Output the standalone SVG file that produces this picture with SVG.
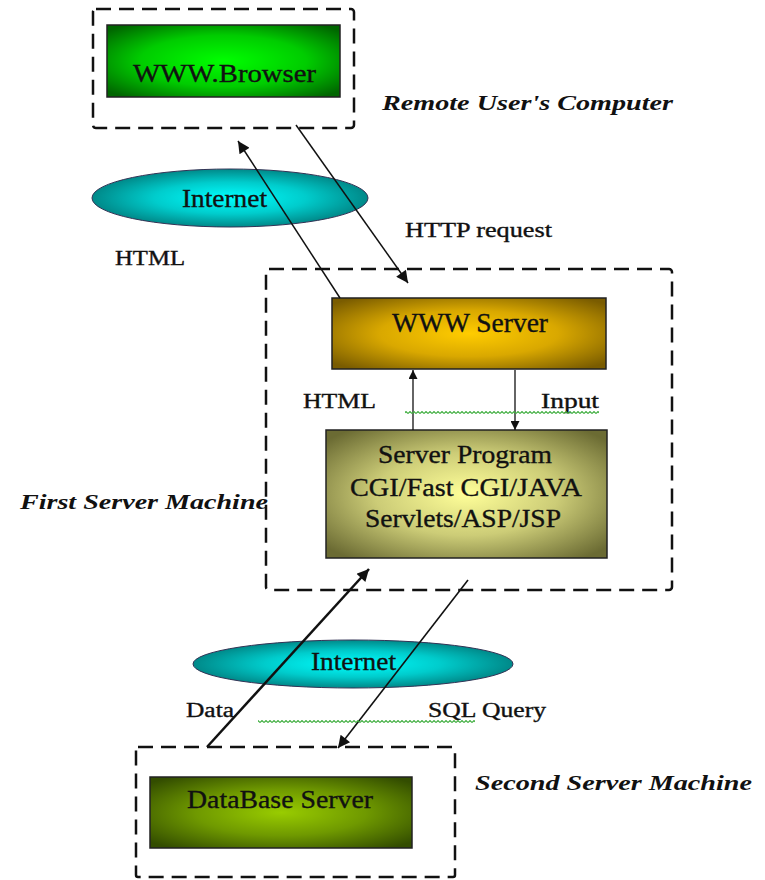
<svg xmlns="http://www.w3.org/2000/svg" width="765" height="880" viewBox="0 0 765 880">
<style>
.dash{fill:none;stroke:#111;stroke-width:2.5;stroke-dasharray:15 8}
.box{stroke:#222;stroke-width:1.5}
.lbl{font-family:"Liberation Serif","Times New Roman",serif;fill:#111;stroke:#111;stroke-width:0.35}
.title{font-family:"Liberation Serif","Times New Roman",serif;font-weight:bold;font-style:italic;fill:#111}
.conn{stroke:#111;fill:none}
</style>
<defs>
<radialGradient id="gBrowser" cx="50%" cy="50%" r="65%"><stop offset="0" stop-color="#00ff00"/><stop offset="0.55" stop-color="#00cc00"/><stop offset="1" stop-color="#006600"/></radialGradient>
<radialGradient id="gWww" cx="50%" cy="50%" r="65%"><stop offset="0" stop-color="#ffcc00"/><stop offset="0.5" stop-color="#d9a800"/><stop offset="1" stop-color="#7a5c00"/></radialGradient>
<radialGradient id="gProg" cx="50%" cy="50%" r="65%"><stop offset="0" stop-color="#ffff99"/><stop offset="0.5" stop-color="#cccc77"/><stop offset="1" stop-color="#6b6b33"/></radialGradient>
<radialGradient id="gDb" cx="50%" cy="50%" r="65%"><stop offset="0" stop-color="#99cc00"/><stop offset="0.5" stop-color="#6f9900"/><stop offset="1" stop-color="#334d00"/></radialGradient>
<radialGradient id="gNet" cx="50%" cy="50%" r="55%"><stop offset="0" stop-color="#00ffff"/><stop offset="0.5" stop-color="#00cccc"/><stop offset="1" stop-color="#007a7a"/></radialGradient>
<marker id="arr" viewBox="0 0 10 10" refX="10" refY="5" markerUnits="userSpaceOnUse" markerWidth="15" markerHeight="12" orient="auto"><path d="M0,0 L10,5 L0,10 z" fill="#111"/></marker>
<marker id="arrS" viewBox="0 0 10 10" refX="10" refY="5" markerUnits="userSpaceOnUse" markerWidth="11" markerHeight="9" orient="auto"><path d="M0,0 L10,5 L0,10 z" fill="#111"/></marker>
<pattern id="wavy" width="4" height="3" patternUnits="userSpaceOnUse"><path d="M0,2.5 L2,0.5 L4,2.5" fill="none" stroke="#3fae3f" stroke-width="1.1"/></pattern>
</defs>

<g id="remote-computer">
<rect class="dash" x="93" y="9" width="261" height="119" rx="3"/>
<text class="title" x="382" y="110" font-size="21" textLength="291" lengthAdjust="spacingAndGlyphs">Remote User's Computer</text>
</g>
<g id="www-browser">
<rect class="box" x="107" y="25" width="233" height="72" fill="url(#gBrowser)"/>
<text class="lbl" x="133" y="82" font-size="25" textLength="183" lengthAdjust="spacingAndGlyphs">WWW.Browser</text>
</g>
<g id="internet-top">
<ellipse cx="230" cy="198" rx="138" ry="29" fill="url(#gNet)" stroke="#335" stroke-width="1"/>
<text class="lbl" x="182" y="207" font-size="26" textLength="85" lengthAdjust="spacingAndGlyphs">Internet</text>
</g>
<g id="first-server">
<rect class="dash" x="266" y="269" width="406" height="321" rx="3"/>
<text class="title" x="20" y="509" font-size="21" textLength="248" lengthAdjust="spacingAndGlyphs">First Server Machine</text>
</g>
<g id="www-server">
<rect class="box" x="332" y="298" width="274" height="71" fill="url(#gWww)"/>
<text class="lbl" x="392" y="332" font-size="27" textLength="156" lengthAdjust="spacingAndGlyphs">WWW Server</text>
</g>
<g id="server-program">
<rect class="box" x="326" y="430" width="281" height="128" fill="url(#gProg)"/>
<text class="lbl" x="378" y="463" font-size="26" textLength="174" lengthAdjust="spacingAndGlyphs">Server Program</text>
<text class="lbl" x="350" y="496" font-size="26" textLength="232" lengthAdjust="spacingAndGlyphs">CGI/Fast CGI/JAVA</text>
<text class="lbl" x="365" y="527" font-size="26" textLength="196" lengthAdjust="spacingAndGlyphs">Servlets/ASP/JSP</text>
</g>
<g id="internet-bottom">
<ellipse cx="353" cy="664" rx="160" ry="24" fill="url(#gNet)" stroke="#335" stroke-width="1"/>
<text class="lbl" x="311" y="670" font-size="26" textLength="85" lengthAdjust="spacingAndGlyphs">Internet</text>
</g>
<g id="second-server">
<rect class="dash" x="136" y="747" width="319" height="130" rx="2"/>
<text class="title" x="475" y="790" font-size="21" textLength="277" lengthAdjust="spacingAndGlyphs">Second Server Machine</text>
</g>
<g id="database-server">
<rect class="box" x="150" y="777" width="262" height="71" fill="url(#gDb)"/>
<text class="lbl" x="187" y="808" font-size="25" textLength="186" lengthAdjust="spacingAndGlyphs">DataBase Server</text>
</g>

<g id="connectors">
<line class="conn" x1="340" y1="298" x2="238" y2="141" stroke-width="1.5" marker-end="url(#arr)"/>
<line class="conn" x1="296" y1="125" x2="408" y2="283" stroke-width="1.5" marker-end="url(#arr)"/>
<line class="conn" x1="413" y1="430" x2="413" y2="370" stroke-width="1.3" marker-end="url(#arrS)"/>
<line class="conn" x1="515" y1="370" x2="515" y2="430" stroke-width="1.3" marker-end="url(#arrS)"/>
<line class="conn" x1="207" y1="747" x2="369" y2="569" stroke-width="2.5" marker-end="url(#arr)"/>
<line class="conn" x1="468" y1="580" x2="338" y2="748" stroke-width="1.6" marker-end="url(#arr)"/>
<g id="connector-labels">
<text class="lbl" x="405" y="237" font-size="20" textLength="147" lengthAdjust="spacingAndGlyphs">HTTP request</text>
<text class="lbl" x="115" y="265" font-size="20" textLength="70" lengthAdjust="spacingAndGlyphs">HTML</text>
<text class="lbl" x="303" y="408" font-size="20" textLength="73" lengthAdjust="spacingAndGlyphs">HTML</text>
<text class="lbl" x="541" y="408" font-size="20" textLength="58" lengthAdjust="spacingAndGlyphs">Input</text>
<text class="lbl" x="186" y="717" font-size="20" textLength="48" lengthAdjust="spacingAndGlyphs">Data</text>
<text class="lbl" x="428" y="717" font-size="20" textLength="118" lengthAdjust="spacingAndGlyphs">SQL Query</text>
</g>
<rect x="405" y="411" width="194" height="3" fill="url(#wavy)"/>
<rect x="258" y="720" width="217" height="3" fill="url(#wavy)"/>
</g>
</svg>
